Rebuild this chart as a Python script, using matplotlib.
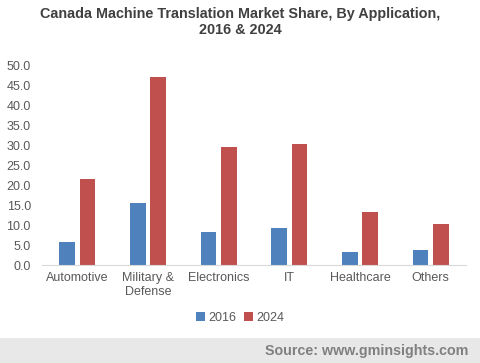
import numpy as np
import matplotlib
matplotlib.use('Agg')
import matplotlib.pyplot as plt
from matplotlib.patches import Rectangle

plt.rcParams['font.family'] = ['Liberation Sans', 'DejaVu Sans']

# 数据
categories = ['Automotive', 'Military &\nDefense', 'Electronics', 'IT', 'Healthcare', 'Others']
share_2016 = [5.8, 15.5, 8.3, 9.3, 3.3, 3.8]
share_2024 = [21.5, 47.0, 29.5, 30.3, 13.3, 10.3]
yticks = [0, 5, 10, 15, 20, 25, 30, 35, 40, 45, 50]

fig = plt.figure(figsize=(4.8, 3.63), dpi=100)
ax = fig.add_axes([42 / 480, 1 - 265 / 363, 424 / 480, 200 / 363])

x = np.arange(len(categories))
w = 0.22
ax.bar(x - 0.145, share_2016, width=w, color='#4f81bd', label='2016')
ax.bar(x + 0.145, share_2024, width=w, color='#c0504d', label='2024')

ax.set_xlim(-0.5, len(categories) - 0.5)
ax.set_ylim(0, 50)
ax.set_yticks(yticks)
ax.set_yticklabels(['%.1f' % v for v in yticks])
ax.set_xticks(x)
ax.set_xticklabels(categories)
ax.tick_params(axis='both', length=0, labelsize=9, colors='#595959')
ax.tick_params(axis='x', pad=5)
ax.tick_params(axis='y', pad=8)
for s in ['top', 'right', 'left']:
    ax.spines[s].set_visible(False)
ax.spines['bottom'].set_color('#d9d9d9')

# 标题
fig.text(0.5, 1 - 22 / 363, 'Canada Machine Translation Market Share, By Application,\n2016 & 2024',
         ha='center', va='center', fontsize=10.4, fontweight='bold', color='#404040', linespacing=1.25)

# 图例
fig.legend(loc='center', bbox_to_anchor=(0.5, 1 - 318 / 363), ncol=2, frameon=False,
           fontsize=9, handlelength=0.7, handleheight=0.7, handletextpad=0.3,
           columnspacing=0.6, labelcolor='#595959')

# 底部来源栏
fig.patches.append(Rectangle((0, 0), 1, 25 / 363, transform=fig.transFigure,
                             facecolor='#e8e8e8', edgecolor='none'))
fig.text(468 / 480, 12 / 363, 'Source: www.gminsights.com', ha='right', va='center',
         fontsize=10.3, fontweight='bold', color='#808080')

fig.savefig('out.png', dpi=100)
